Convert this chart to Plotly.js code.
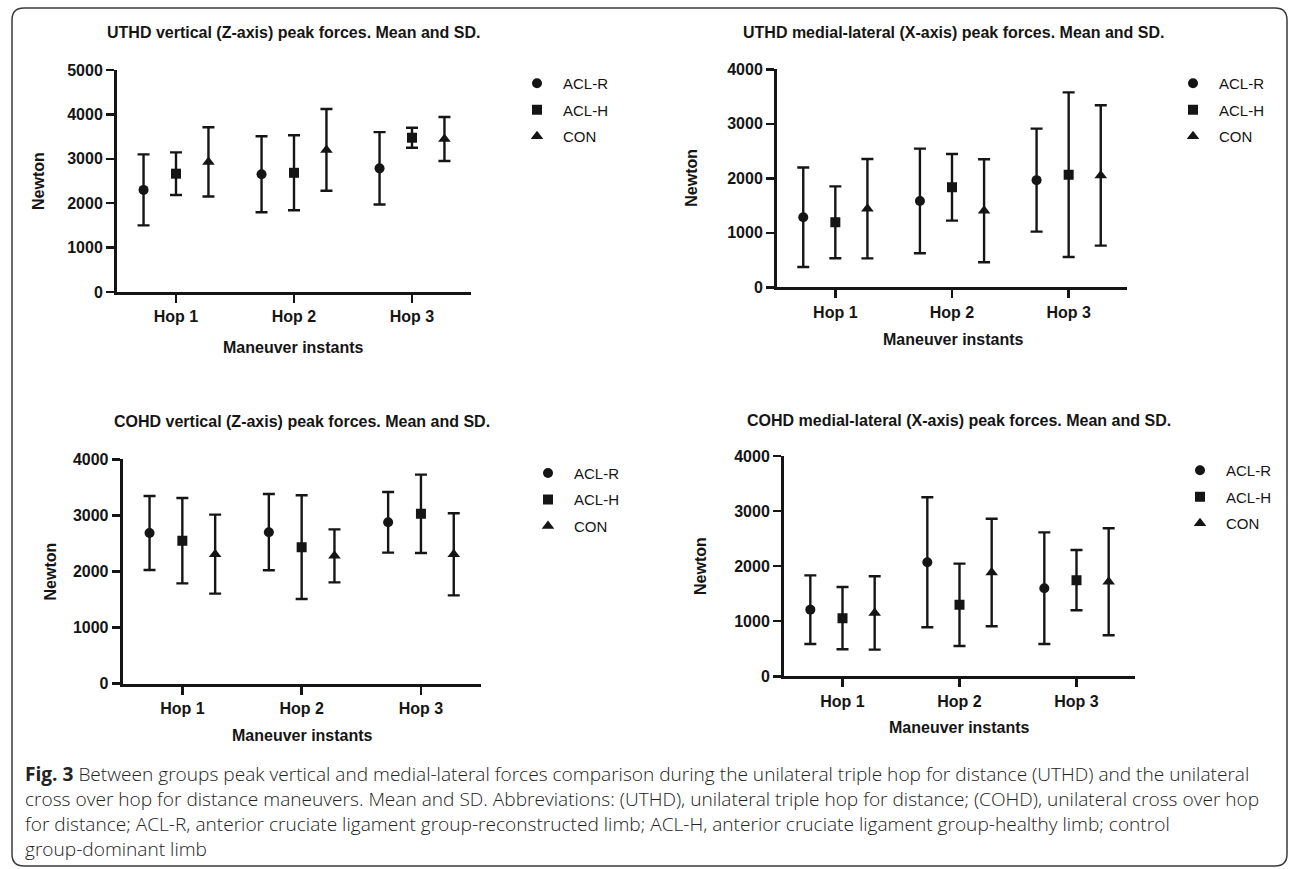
<!DOCTYPE html>
<html><head><meta charset="utf-8">
<script src="https://cdn.plot.ly/plotly-3.0.1.min.js"></script>
<style>html,body{margin:0;padding:0;background:#fff;} #chart{width:1292px;height:869px;}</style>
</head><body><div id="chart"></div>
<script>
// ---------- DATA ----------
const hops = ['Hop 1', 'Hop 2', 'Hop 3'];
const groupNames = ['ACL-R', 'ACL-H', 'CON'];
const groupSymbols = ['circle', 'square', 'triangle-up'];

// UTHD vertical (Z-axis)
const uthdZ_aclr_mean = [2300, 2652, 2785];
const uthdZ_aclr_sd   = [800, 857, 815];
const uthdZ_aclh_mean = [2665, 2685, 3475];
const uthdZ_aclh_sd   = [480, 845, 225];
const uthdZ_con_mean  = [2930, 3200, 3445];
const uthdZ_con_sd    = [780, 920, 495];

// UTHD medial-lateral (X-axis)
const uthdX_aclr_mean = [1285, 1584, 1966];
const uthdX_aclr_sd   = [912, 960, 945];
const uthdX_aclh_mean = [1192, 1835, 2067];
const uthdX_aclh_sd   = [660, 612, 1510];
const uthdX_con_mean  = [1443, 1404, 2052];
const uthdX_con_sd    = [912, 945, 1287];

// COHD vertical (Z-axis)
const cohdZ_aclr_mean = [2686, 2701, 2877];
const cohdZ_aclr_sd   = [660, 680, 541];
const cohdZ_aclh_mean = [2550, 2434, 3028];
const cohdZ_aclh_sd   = [761, 924, 698];
const cohdZ_con_mean  = [2309, 2279, 2306];
const cohdZ_con_sd    = [704, 472, 731];

// COHD medial-lateral (X-axis)
const cohdX_aclr_mean = [1210, 2070, 1600];
const cohdX_aclr_sd   = [623, 1180, 1014];
const cohdX_aclh_mean = [1056, 1298, 1746];
const cohdX_aclh_sd   = [566, 747, 548];
const cohdX_con_mean  = [1150, 1885, 1716];
const cohdX_con_sd    = [666, 977, 972];

const panelTitles = [
  'UTHD vertical (Z-axis) peak forces. Mean and SD.',
  'UTHD medial-lateral (X-axis) peak forces. Mean and SD.',
  'COHD vertical (Z-axis) peak forces. Mean and SD.',
  'COHD medial-lateral (X-axis) peak forces. Mean and SD.'
];
const yTitle = 'Newton';
const xTitle = 'Maneuver instants';
const yMax = [5000, 4000, 4000, 4000];

const captionLines = [
  '<b>Fig. 3</b> Between groups peak vertical and medial-lateral forces comparison during the unilateral triple hop for distance (UTHD) and the unilateral',
  'cross over hop for distance maneuvers. Mean and SD. Abbreviations: (UTHD), unilateral triple hop for distance; (COHD), unilateral cross over hop',
  'for distance; ACL-R, anterior cruciate ligament group-reconstructed limb; ACL-H, anterior cruciate ligament group-healthy limb; control',
  'group-dominant limb'
];

const panelMeans = [
  [uthdZ_aclr_mean, uthdZ_aclh_mean, uthdZ_con_mean],
  [uthdX_aclr_mean, uthdX_aclh_mean, uthdX_con_mean],
  [cohdZ_aclr_mean, cohdZ_aclh_mean, cohdZ_con_mean],
  [cohdX_aclr_mean, cohdX_aclh_mean, cohdX_con_mean]
];
const panelSDs = [
  [uthdZ_aclr_sd, uthdZ_aclh_sd, uthdZ_con_sd],
  [uthdX_aclr_sd, uthdX_aclh_sd, uthdX_con_sd],
  [cohdZ_aclr_sd, cohdZ_aclh_sd, cohdZ_con_sd],
  [cohdX_aclr_sd, cohdX_aclh_sd, cohdX_con_sd]
];

// ---------- LAYOUT GEOMETRY (pixels) ----------
const W = 1292, H = 869;
const fx = p => p / W;
const fy = p => 1 - p / H;
const INK = '#151515';
const FONT = 'Liberation Sans, Arial, Helvetica, sans-serif';

// [left, right, top, bottom] of each plot area
const boxes = [
  [117, 471, 70, 292],
  [777, 1127, 69.3, 287.3],
  [122.7, 480.6, 459.3, 683.7],
  [784, 1135, 456, 676.3]
];
const titlePos = [[293.5, 33], [953, 33], [301.7, 421.7], [959, 420.7]];
const yTitlePos = [[38, 181], [691.7, 178], [50, 571.5], [700, 566]];
const xTitlePos = [[293.5, 347], [953, 339.3], [302, 735.7], [959, 727.7]];
const legendPos = [[537, 81], [1193, 81], [548, 470.7], [1200, 468]];
const markerSizes = [10, 10, 11];

const traces = [];
const layout = {
  width: W, height: H,
  margin: {l: 0, r: 0, t: 0, b: 0},
  paper_bgcolor: '#fff', plot_bgcolor: 'rgba(0,0,0,0)',
  scattermode: 'group', scattergap: 0.175,
  showlegend: true,
  annotations: [], shapes: []
};

boxes.forEach((b, i) => {
  const n = i === 0 ? '' : String(i + 1);
  const xa = 'x' + n, ya = 'y' + n;
  const legName = 'legend' + n;
  const axisCommon = {
    showline: true, linewidth: 3, linecolor: INK,
    ticks: 'outside', ticklen: 8, tickwidth: 2.5, tickcolor: INK,
    showgrid: false, zeroline: false, fixedrange: true,
    tickfont: {family: FONT, size: 16, color: INK, weight: 'bold'}
  };
  layout['xaxis' + n] = Object.assign({}, axisCommon, {
    domain: [fx(b[0]), fx(b[1])], anchor: ya,
    type: 'category', categoryorder: 'array', categoryarray: hops,
    range: [-0.5, 2.5]
  });
  layout['yaxis' + n] = Object.assign({}, axisCommon, {
    domain: [fy(b[3]), fy(b[2])], anchor: xa,
    range: [0, yMax[i]], dtick: 1000, tick0: 0
  });
  layout[legName] = {
    x: fx(legendPos[i][0] - 26), y: fy(legendPos[i][1] - 14),
    xanchor: 'left', yanchor: 'top',
    bgcolor: 'rgba(0,0,0,0)', borderwidth: 0,
    itemwidth: 42, tracegroupgap: 4,
    font: {family: FONT, size: 15, color: INK}
  };
  groupNames.forEach((g, k) => {
    traces.push({
      type: 'scatter', mode: 'markers',
      x: hops, y: panelMeans[i][k], name: g,
      xaxis: xa, yaxis: ya, legend: legName,
      legendgroup: 'p' + i + 'g' + k,
      marker: {symbol: groupSymbols[k], size: markerSizes[k], color: INK},
      error_y: {type: 'data', array: panelSDs[i][k], visible: true,
                color: INK, thickness: 2.4, width: 6},
      hoverinfo: 'x+y+name'
    });
  });
  layout.annotations.push({
    xref: 'paper', yref: 'paper', x: fx(titlePos[i][0]), y: fy(titlePos[i][1]),
    xanchor: 'center', yanchor: 'middle', showarrow: false, text: panelTitles[i],
    font: {family: FONT, size: 16, color: INK, weight: 'bold'}
  });
  layout.annotations.push({
    xref: 'paper', yref: 'paper', x: fx(yTitlePos[i][0]), y: fy(yTitlePos[i][1]),
    xanchor: 'center', yanchor: 'middle', showarrow: false, text: yTitle, textangle: -90,
    font: {family: FONT, size: 16, color: INK, weight: 'bold'}
  });
  layout.annotations.push({
    xref: 'paper', yref: 'paper', x: fx(xTitlePos[i][0]), y: fy(xTitlePos[i][1]),
    xanchor: 'center', yanchor: 'middle', showarrow: false, text: xTitle,
    font: {family: FONT, size: 16, color: INK, weight: 'bold'}
  });
});

// caption
const capY = [774, 799, 824, 849];
captionLines.forEach((t, j) => {
  layout.annotations.push({
    xref: 'paper', yref: 'paper', x: fx(23), y: fy(capY[j]),
    xanchor: 'left', yanchor: 'middle', showarrow: false, text: t, align: 'left',
    font: {family: 'Open Sans, Noto Sans, sans-serif', size: 19.1, color: '#222', weight: 300}
  });
});

// rounded frame
(function(){
  const L = 12, R = 1287, T = 8, B = 866, r = 12;
  const P = (x, y) => fx(x) + ',' + fy(y);
  const path = 'M' + P(L + r, T) + ' L' + P(R - r, T) + ' Q' + P(R, T) + ' ' + P(R, T + r) +
    ' L' + P(R, B - r) + ' Q' + P(R, B) + ' ' + P(R - r, B) +
    ' L' + P(L + r, B) + ' Q' + P(L, B) + ' ' + P(L, B - r) +
    ' L' + P(L, T + r) + ' Q' + P(L, T) + ' ' + P(L + r, T) + ' Z';
  layout.shapes.push({type: 'path', xref: 'paper', yref: 'paper', path: path,
    line: {color: '#3a3a3a', width: 1.5}, fillcolor: 'rgba(0,0,0,0)', layer: 'below'});
})();

Plotly.newPlot('chart', traces, layout, {displayModeBar: false, staticPlot: true});
</script>
</body></html>
